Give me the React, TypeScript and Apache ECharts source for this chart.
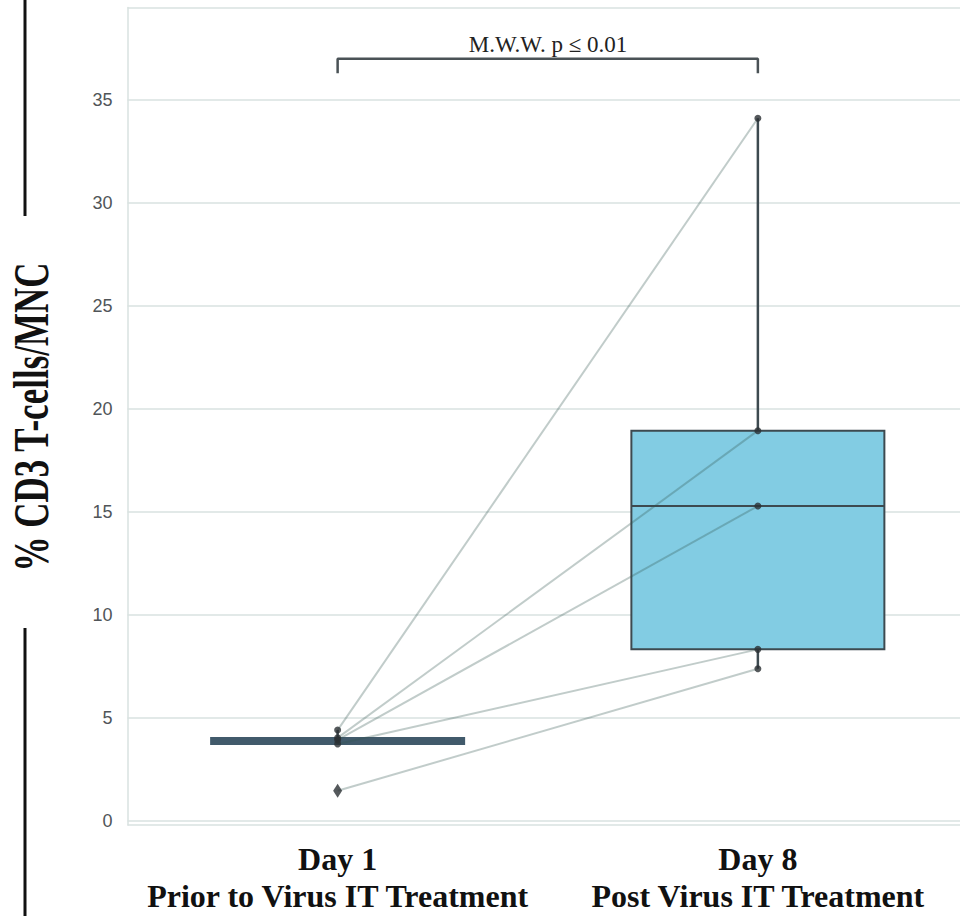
import React, { useEffect, useRef } from "react";
import * as echarts from "echarts";

const categories = ["Day 1\nPrior to Virus IT Treatment", "Day 8\nPost Virus IT Treatment"];
// paired patient values (same index = same patient)
const day1Values = [4.4, 4.02, 3.92, 3.72, 1.45];
const day8Values = [34.11, 18.94, 15.28, 8.32, 7.38];
// box statistics [min whisker, Q1, median, Q3, max whisker]
const day1Stats = [3.72, 3.72, 3.92, 4.02, 4.4];
const day8Stats = [7.38, 8.32, 15.28, 18.94, 34.11];
const day1Fliers = [1.45];
const bracketLevels = [36.3, 37.0];
const yAxisTitle = "% CD3 T-cells/MNC";
const annotation = "M.W.W. p \u2264 0.01";

export default function App() {
  const ref = useRef<HTMLDivElement>(null);
  useEffect(() => {
    if (!ref.current) return;
    const chart = echarts.init(ref.current, null, { renderer: "svg" });
    const stats = [day1Stats, day8Stats];
    const boxColors = [
      { color: "#415a6b", borderColor: "#415a6b" },
      { color: "#82cce3", borderColor: "#3d4a50" },
    ];
    const pairSeries = day1Values.map((v, i) => ({
      type: "line",
      data: [
        [categories[0], v],
        [categories[1], day8Values[i]],
      ],
      symbol: "none",
      silent: true,
      z: 3,
      lineStyle: { color: "rgba(50,85,80,0.3)", width: 2 },
    }));
    const whiskerSeries: any[] = [];
    stats.forEach((s, ci) => {
      whiskerSeries.push({
        type: "line",
        data: [
          [categories[ci], s[3]],
          [categories[ci], s[4]],
        ],
        symbol: "none",
        silent: true,
        z: 2,
        lineStyle: { color: "#3d4a50", width: 2.5 },
      });
      whiskerSeries.push({
        type: "line",
        data: [
          [categories[ci], s[1]],
          [categories[ci], s[0]],
        ],
        symbol: "none",
        silent: true,
        z: 2,
        lineStyle: { color: "#3d4a50", width: 2.5 },
      });
    });
    const outlierSet = new Set(day1Fliers);
    chart.setOption({
      animation: false,
      grid: {
        left: 127.5,
        top: 7.5,
        width: 840.5,
        height: 817.5,
        containLabel: false,
        outerBoundsMode: "none",
      },
      xAxis: {
        type: "category",
        data: categories,
        boundaryGap: true,
        axisLine: { show: false },
        axisTick: { show: false },
        splitLine: { show: false },
        axisLabel: {
          interval: 0,
          margin: 15,
          color: "#111",
          fontFamily: "Liberation Serif",
          fontWeight: "bold",
          fontSize: 32,
          lineHeight: 37,
        },
      },
      yAxis: {
        type: "value",
        min: -0.21,
        max: 39.49,
        splitNumber: 8,
        axisLine: { show: true, lineStyle: { color: "#d9e2e0", width: 1.5 } },
        axisTick: { show: false },
        splitLine: { show: true, lineStyle: { color: "#d9e2e0", width: 1.5 } },
        axisLabel: {
          margin: 15,
          color: "#505558",
          fontFamily: "Liberation Sans",
          fontSize: 18,
          formatter: (v: number) => (Math.abs(v / 5 - Math.round(v / 5)) < 1e-6 ? String(Math.round(v)) : ""),
        },
      },
      series: [
        {
          type: "boxplot",
          data: stats.map((s, i) => ({
            value: [s[1], s[1], s[2], s[3], s[3]],
            itemStyle: { ...boxColors[i], borderWidth: 2 },
          })),
          boxWidth: [253, 253],
          silent: true,
          z: 2,
        },
        ...whiskerSeries,
        ...pairSeries,
        {
          type: "scatter",
          data: [
            ...day1Values.filter((v) => !outlierSet.has(v)).map((v) => [categories[0], v]),
            ...day8Values.map((v) => [categories[1], v]),
          ],
          symbol: "circle",
          symbolSize: 7,
          itemStyle: { color: "#2b2f33" },
          silent: true,
          z: 4,
        },
        {
          type: "scatter",
          data: day1Fliers.map((v) => [categories[0], v]),
          symbol: "diamond",
          symbolSize: [9, 14],
          itemStyle: { color: "#2b2f33" },
          silent: true,
          z: 4,
        },
        {
          type: "line",
          data: [
            [categories[0], bracketLevels[0]],
            [categories[0], bracketLevels[1]],
            [categories[1], bracketLevels[1]],
            [categories[1], bracketLevels[0]],
          ],
          symbol: "none",
          silent: true,
          z: 3,
          lineStyle: { color: "#4a5256", width: 2.5 },
        },
      ],
      graphic: [
        {
          type: "text",
          x: 548,
          y: 44,
          style: {
            text: annotation,
            fontFamily: "Liberation Serif",
            fontSize: 23,
            fill: "#222",
            textAlign: "center",
            textVerticalAlign: "middle",
          },
        },
        {
          type: "text",
          x: 31,
          y: 417,
          rotation: Math.PI / 2,
          scaleX: 1,
          scaleY: 1.45,
          style: {
            text: yAxisTitle,
            fontFamily: "Liberation Serif",
            fontWeight: "bold",
            fontSize: 35,
            fill: "#111",
            textAlign: "center",
            textVerticalAlign: "middle",
          },
        },
        {
          type: "line",
          shape: { x1: 25, y1: 0, x2: 25, y2: 216 },
          style: { stroke: "#111", lineWidth: 3 },
        },
        {
          type: "line",
          shape: { x1: 25, y1: 628, x2: 25, y2: 916 },
          style: { stroke: "#111", lineWidth: 3 },
        },
      ],
    });
    return () => chart.dispose();
  }, []);
  return (
    <div
      ref={ref}
      style={{ position: "fixed", left: 0, top: 0, width: 960, height: 916, background: "#fff" }}
    />
  );
}
